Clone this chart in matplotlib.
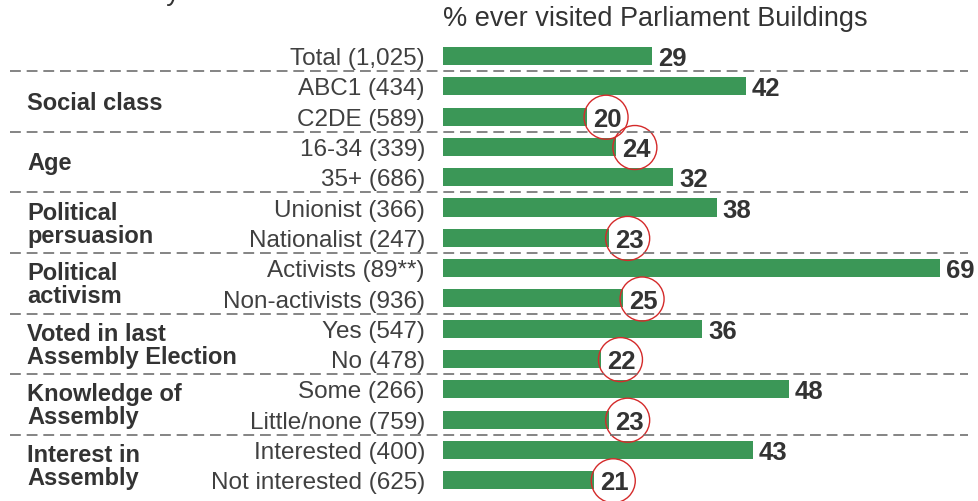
import matplotlib.pyplot as plt
from matplotlib.patches import Ellipse
from matplotlib.transforms import blended_transform_factory

plt.rcParams["font.family"] = ["Liberation Sans", "DejaVu Sans"]

# ==============================
# Data
# ==============================
rows = ["Total (1,025)", "ABC1 (434)", "C2DE (589)", "16-34 (339)", "35+ (686)",
        "Unionist (366)", "Nationalist (247)", "Activists (89**)", "Non-activists (936)",
        "Yes (547)", "No (478)", "Some (266)", "Little/none (759)",
        "Interested (400)", "Not interested (625)"]
values = [29, 42, 20, 24, 32, 38, 23, 69, 25, 36, 22, 48, 23, 43, 21]
groups = ["Social class", "Age", "Political\npersuasion", "Political\nactivism",
          "Voted in last\nAssembly Election", "Knowledge of\nAssembly", "Interest in\nAssembly"]
# rows that get a red ring around the value
circled = [2, 3, 6, 8, 10, 12, 14]

GREEN = "#3b9757"
DARK = "#333333"
W, H = 979, 502

fig = plt.figure(figsize=(W / 100, H / 100), dpi=100)
ax = fig.add_axes([443 / W, 0, 1 - 443 / W, 1])
px_per_unit = 7.203
row_px = 30.3
ax.set_xlim(0, (W - 443) / px_per_unit)
ax.set_ylim((H - 57) / row_px, -57 / row_px)
ax.axis("off")

ypos = list(range(len(rows)))
ax.barh(ypos, values, height=0.6, color=GREEN)

# nudge text down a little so it sits centred on the bars
ty = 0.07

# value labels
dx = 6 / px_per_unit
for i, v in enumerate(values):
    ax.text(v + dx, i + ty, str(v), ha="left", va="center", fontsize=18.5,
            fontweight="bold", color=DARK)
    if i in circled:
        cx = v + dx + 13 / px_per_unit
        ax.add_patch(Ellipse((cx, i + 0.02), 2 * 22 / px_per_unit, 2 * 22 / row_px,
                             fill=False, edgecolor="#d42a2a", lw=1.0, clip_on=False))

# row labels and group labels
trans = blended_transform_factory(fig.transFigure, ax.transData)
for i, lab in enumerate(rows):
    ax.text(425 / W, i + ty, lab, transform=trans, ha="right", va="center",
            fontsize=17.5, color="#404040")
for g, name in enumerate(groups):
    ax.text(27 / W, 1.5 + 2 * g + 0.03, name, transform=trans, ha="left", va="center",
            fontsize=17, fontweight="bold", color=DARK, linespacing=1.0)

# dashed separators between groups
for k in range(7):
    y = 0.5 + 2 * k
    ax.plot([10 / W, 968 / W], [y, y], transform=trans, color="#707070",
            lw=1.2, ls=(0, (6.5, 3.5)), clip_on=False)

fig.text(443 / W, 1 - 19 / H, "% ever visited Parliament Buildings",
         ha="left", va="center", fontsize=19.5, color=DARK)
fig.text(62 / W, 1, "Assembly site", ha="left", va="baseline",
         fontsize=19.5, color=DARK)

fig.savefig("out.png", dpi=100)
